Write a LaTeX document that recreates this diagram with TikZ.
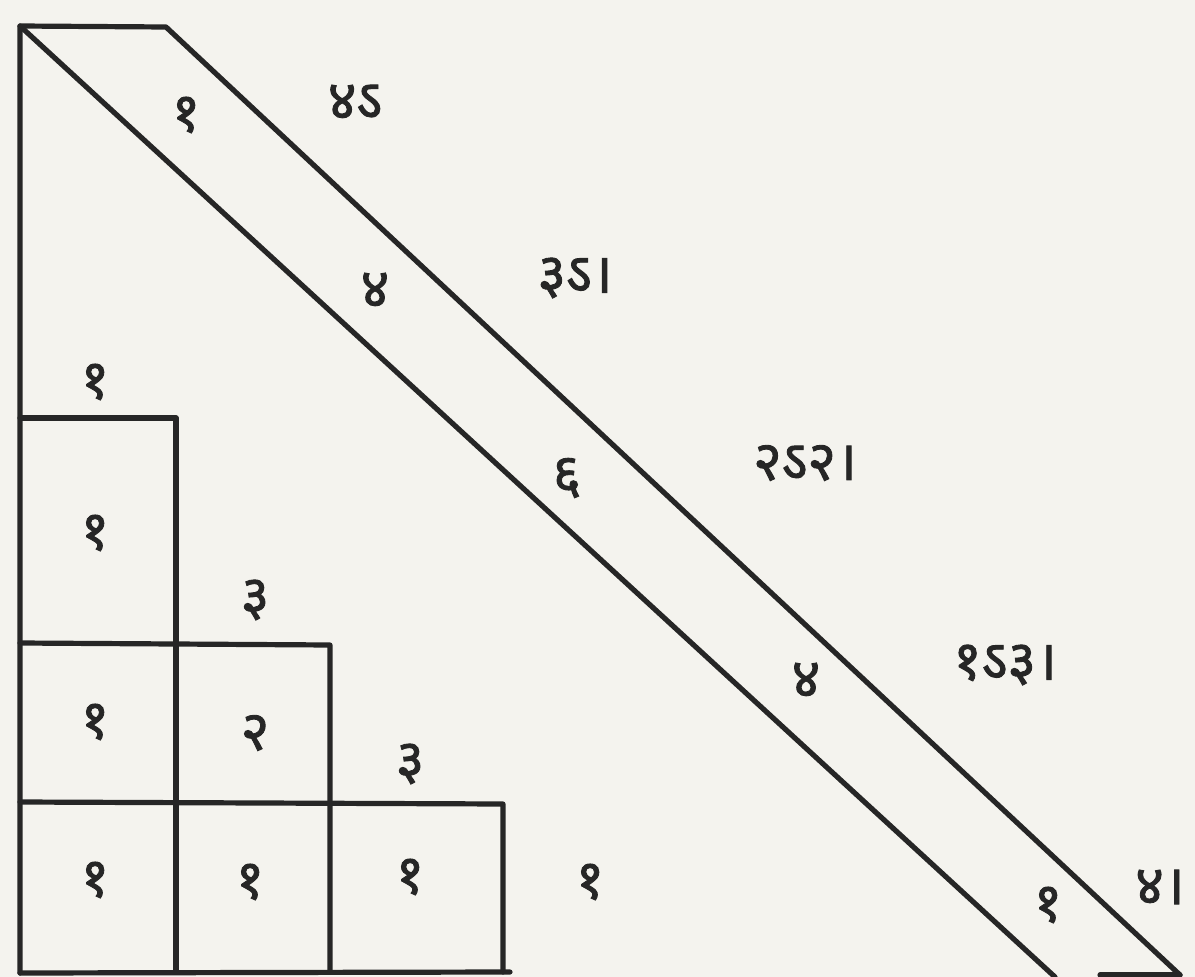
\documentclass[tikz,border=0pt]{standalone}
\usepackage{fontspec}
\newfontfamily\devfont[Script=Devanagari,FakeBold=1.6]{Noto Sans}
\definecolor{paper}{RGB}{244,243,238}
\definecolor{ink}{RGB}{38,38,38}
\begin{document}
\begin{tikzpicture}[x=1pt,y=-1pt,
  edge/.style={draw=ink,line width=5.2pt,line cap=round,line join=round},
  num/.style={text=ink,font=\devfont\fontsize{55}{57}\selectfont,inner sep=0pt},
  lab/.style={num}]
\fill[paper] (0,0) rectangle (1195,977);
\useasboundingbox (0,0) rectangle (1195,977);
% frame and diagonal strip
\coordinate (tl) at (20,26);
\coordinate (tr) at (166,27);
\coordinate (bl) at (20,973);
\coordinate (inb) at (1055,977);
\coordinate (outb) at (1180,975);
\draw[edge] (bl) -- (tl) -- (tr) -- (outb);
\draw[edge] (tl) -- (inb);
\draw[edge] (1100,975) -- (outb);
% boxes
\coordinate (c1) at (176,418);
\coordinate (c2) at (330,645);
\coordinate (c3) at (503,804);
\draw[edge] (20,418) -- (c1) -- (176,972);
\draw[edge] (20,643) -- (c2) -- (330,972);
\draw[edge] (20,802) -- (c3) -- (503,972);
\draw[edge] (bl) -- (510,972);
% column labels
\node[num] (a1) at (95,382) {१};
\node[num] (b1) at (95,533) {१};
\node[num] (a2) at (255,600) {३};
\node[num] (b2) at (95,722) {१};
\node[num] (b3) at (255,733) {२};
\node[num] (a3) at (410,764) {३};
\node[num] (r1) at (95,880) {१};
\node[num] (r2) at (250,882) {१};
\node[num] (r3) at (410,877) {१};
\node[num] (r4) at (590,882) {१};
% strip numbers
\node[num] (s1) at (186,115) {१};
\node[num] (s2) at (375,290) {४};
\node[num] (s3) at (567,478) {६};
\node[num] (s4) at (806,680) {४};
\node[num] (s5) at (1048,905) {१};
% right labels
\node[lab] (l1) at (355,102) {४ऽ};
\node[lab] (l2) at (575,278) {३ऽ।};
\node[lab] (l3) at (805,463) {२ऽ२।};
\node[lab] (l4) at (1005,665) {१ऽ३।};
\node[lab] (l5) at (1160,887) {४।};
\end{tikzpicture}
\end{document}
